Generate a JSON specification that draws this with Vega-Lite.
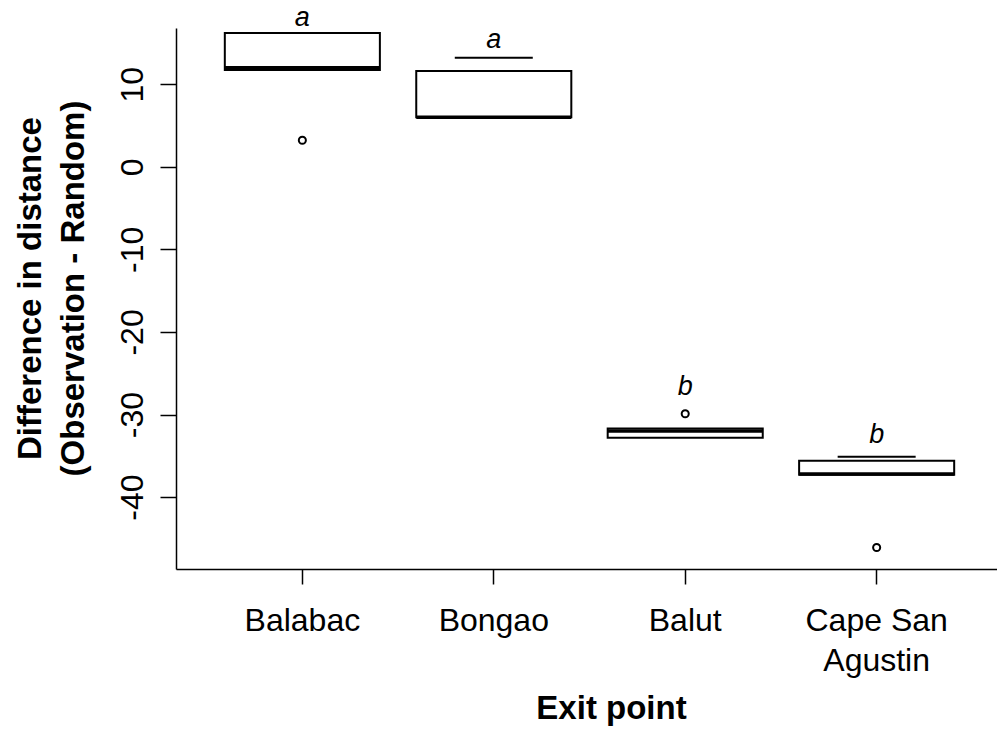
{
  "$schema": "https://vega.github.io/schema/vega-lite/v6.json",
  "autosize": "none",
  "width": 827,
  "height": 541,
  "padding": {"left": 176, "top": 28, "right": 0, "bottom": 160},
  "background": "white",
  "config": {
    "font": "Liberation Sans",
    "view": {"stroke": null},
    "axis": {"grid": false, "domainColor": "#000000", "tickColor": "#000000", "labelColor": "#000000", "titleColor": "#000000", "domainWidth": 1.5, "tickWidth": 1.5}
  },
  "datasets": {
    "boxes": [
      {"site": "Balabac", "value": 11.7, "value2": 16.2},
      {"site": "Bongao", "value": 6.0, "value2": 11.6},
      {"site": "Balut", "value": -32.8, "value2": -31.7},
      {"site": "Cape San Agustin", "value": -37.3, "value2": -35.6}
    ],
    "medians": [
      {"site": "Balabac", "value": 12.0},
      {"site": "Bongao", "value": 6.0},
      {"site": "Balut", "value": -32.0},
      {"site": "Cape San Agustin", "value": -37.2}
    ],
    "caps": [
      {"site": "Bongao", "value": 13.2},
      {"site": "Cape San Agustin", "value": -35.1}
    ],
    "outliers": [
      {"site": "Balabac", "value": 3.2},
      {"site": "Balut", "value": -29.9},
      {"site": "Cape San Agustin", "value": -46.1}
    ],
    "letters": [
      {"site": "Balabac", "value": 17.1, "letter": "a"},
      {"site": "Bongao", "value": 14.4, "letter": "a"},
      {"site": "Balut", "value": -27.6, "letter": "b"},
      {"site": "Cape San Agustin", "value": -33.5, "letter": "b"}
    ]
  },
  "encoding": {
    "x": {
      "field": "site",
      "type": "nominal",
      "sort": ["Balabac", "Bongao", "Balut", "Cape San Agustin"],
      "scale": {"domain": ["Balabac", "Bongao", "Balut", "Cape San Agustin"], "paddingInner": 0, "paddingOuter": 0.16},
      "axis": {
        "title": "Exit point",
        "titleFontSize": 33,
        "titleFontWeight": "bold",
        "titleX": 435,
        "titleY": 149,
        "titleAlign": "center",
        "titleBaseline": "alphabetic",
        "labelAngle": 0,
        "labelFontSize": 32,
        "labelBaseline": "middle",
        "labelPadding": 36,
        "labelLineHeight": 40,
        "tickSize": 15,
        "labelExpr": "datum.value == 'Cape San Agustin' ? ['Cape San', 'Agustin'] : datum.value"
      }
    },
    "y": {
      "field": "value",
      "type": "quantitative",
      "scale": {"domain": [-48.7, 16.8], "nice": false, "zero": false},
      "axis": {
        "title": ["Difference in distance", "(Observation - Random)"],
        "titleFontSize": 33,
        "titleFontWeight": "bold",
        "titleAngle": 270,
        "titleX": -136,
        "titleY": 260,
        "titleAlign": "center",
        "titleBaseline": "alphabetic",
        "titleLineHeight": 43,
        "values": [-40, -30, -20, -10, 0, 10],
        "labelExpr": "replace(datum.label, '\u2212', '-')",
        "labelAngle": 270,
        "labelAlign": "center",
        "labelBaseline": "alphabetic",
        "labelFontSize": 32,
        "labelPadding": 18,
        "tickSize": 16
      }
    }
  },
  "layer": [
    {
      "data": {"name": "boxes"},
      "mark": {"type": "bar", "fill": "white", "stroke": "black", "strokeWidth": 2, "width": {"band": 0.81}},
      "encoding": {"y2": {"field": "value2"}}
    },
    {
      "data": {"name": "medians"},
      "mark": {"type": "tick", "orient": "horizontal", "size": 155, "thickness": 3.5, "color": "black", "opacity": 1}
    },
    {
      "data": {"name": "caps"},
      "mark": {"type": "tick", "orient": "horizontal", "size": 78, "thickness": 2, "color": "black", "opacity": 1}
    },
    {
      "data": {"name": "outliers"},
      "mark": {"type": "point", "shape": "circle", "filled": false, "size": 50, "strokeWidth": 2, "color": "black", "opacity": 1}
    },
    {
      "data": {"name": "letters"},
      "mark": {"type": "text", "fontStyle": "italic", "fontSize": 27, "baseline": "alphabetic", "align": "center", "color": "black"},
      "encoding": {"text": {"field": "letter"}}
    }
  ]
}
